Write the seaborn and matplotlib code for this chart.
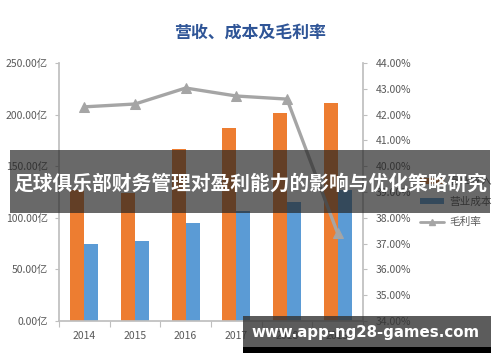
import matplotlib
matplotlib.use('Agg')
import matplotlib.pyplot as plt
import seaborn as sns
import pandas as pd
import numpy as np
from matplotlib.patches import Rectangle, Patch
from matplotlib.lines import Line2D

years = ['2014', '2015', '2016', '2017', '2018', '2019']
revenue = [127, 124, 167, 187, 202, 211]
cost = [74.5, 77.5, 95, 106.5, 115, 127]
margin = [42.30, 42.41, 43.03, 42.72, 42.60, 37.40]
series_names = ['营业收入', '营业成本', '毛利率']
left_ticks = [0, 50, 100, 150, 200, 250]
right_ticks = [34, 35, 36, 37, 38, 39, 40, 41, 42, 43, 44]
title = '营收、成本及毛利率'
banner = '足球俱乐部财务管理对盈利能力的影响与优化策略研究'
watermark = 'www.app-ng28-games.com'

c_rev, c_cost, c_line = '#ED7D31', '#5B9BD5', '#A5A5A5'
txt = '#595959'
axis_c = '#BFBFBF'

sns.set_theme(style='white')
plt.rcParams['font.family'] = ['Noto Sans CJK SC', 'DejaVu Sans']

fig = plt.figure(figsize=(5, 3.62), dpi=100)
ax = fig.add_axes([0.118, 0.1133, 0.608, 0.7127])

df = pd.DataFrame({
    'year': years * 2,
    'value': revenue + cost,
    'series': [series_names[0]] * len(years) + [series_names[1]] * len(years),
})
sns.barplot(data=df, x='year', y='value', hue='series',
            palette=[c_rev, c_cost], width=0.55, gap=0, saturation=1,
            ax=ax, legend=False, linewidth=0)

ax2 = ax.twinx()
sns.lineplot(x=np.arange(len(years)), y=margin, ax=ax2, color=c_line,
             marker='^', markersize=7, linewidth=2.4,
             markeredgecolor=c_line, markerfacecolor=c_line)

ax.set_xlim(-0.5, len(years) - 0.5)
ax.set_ylim(0, 250)
ax2.set_ylim(34, 44)
ax.set_xlabel('')
ax.set_ylabel('')
ax2.set_ylabel('')

ax.set_yticks(left_ticks)
ax.set_yticklabels([f'{v:.2f}亿' for v in left_ticks])
ax2.set_yticks(right_ticks)
ax2.set_yticklabels([f'{v:.2f}%' for v in right_ticks])

ax.set_xticks(range(len(years)))
ax.set_xticklabels(years)
ax.set_xticks(np.arange(-0.5, len(years)), minor=True)
ax.tick_params(axis='x', which='major', length=0, pad=7, labelsize=7.5, labelcolor=txt)
ax.tick_params(axis='x', which='minor', length=4, width=0.8, color=axis_c, direction='out', bottom=True)
ax.tick_params(axis='y', length=3, width=0.8, color=axis_c, direction='out', left=True, pad=5,
               labelsize=7.5, labelcolor=txt)
ax2.tick_params(axis='y', length=3, width=0.8, color=axis_c, direction='out', right=True, pad=6,
                labelsize=7.5, labelcolor=txt)

for a in (ax, ax2):
    for s in a.spines.values():
        s.set_visible(False)
ax.spines['left'].set_visible(True)
ax.spines['left'].set_color(axis_c)
ax.spines['bottom'].set_visible(True)
ax.spines['bottom'].set_color(axis_c)
ax2.spines['right'].set_visible(True)
ax2.spines['right'].set_color(axis_c)

handles = [Patch(facecolor=c_rev, edgecolor='none'),
           Patch(facecolor=c_cost, edgecolor='none'),
           Line2D([0], [0], color=c_line, lw=2, marker='^', markersize=5)]
leg = fig.legend(handles, series_names, loc='upper left',
                 bbox_to_anchor=(0.832, 1 - 172 / 362), frameon=False,
                 fontsize=7.7, handlelength=2.2, handleheight=0.5,
                 labelspacing=0.95, handletextpad=0.5, borderaxespad=0)
for t in leg.get_texts():
    t.set_color(txt)

fig.text(0.5, 1 - 33 / 362, title, ha='center', va='center', fontsize=12.2,
         fontweight='bold', color='#2F5597')

fig.add_artist(Rectangle((10 / 500, 1 - 213 / 362), 480 / 500, 63 / 362,
                         transform=fig.transFigure, facecolor='#222222',
                         alpha=0.68, edgecolor='none', zorder=10))
fig.text(0.5, 1 - 184 / 362, banner, ha='center', va='center', fontsize=14.2,
         fontweight='bold', color='white', zorder=11)

fig.add_artist(Rectangle((243 / 500, 1 - 347 / 362), 248 / 500, 31 / 362,
                         transform=fig.transFigure, facecolor='#333333',
                         alpha=0.8, edgecolor='none', zorder=10))
fig.add_artist(Rectangle((243 / 500, 1 - 353 / 362), 248 / 500, 6 / 362,
                         transform=fig.transFigure, facecolor='black',
                         edgecolor='none', zorder=10))
fig.text(366 / 500, 1 - 332 / 362, watermark, ha='center', va='center',
         fontsize=10.8, fontweight='bold', color='white', zorder=11,
         family='DejaVu Sans')

fig.savefig('out.png', dpi=100)
